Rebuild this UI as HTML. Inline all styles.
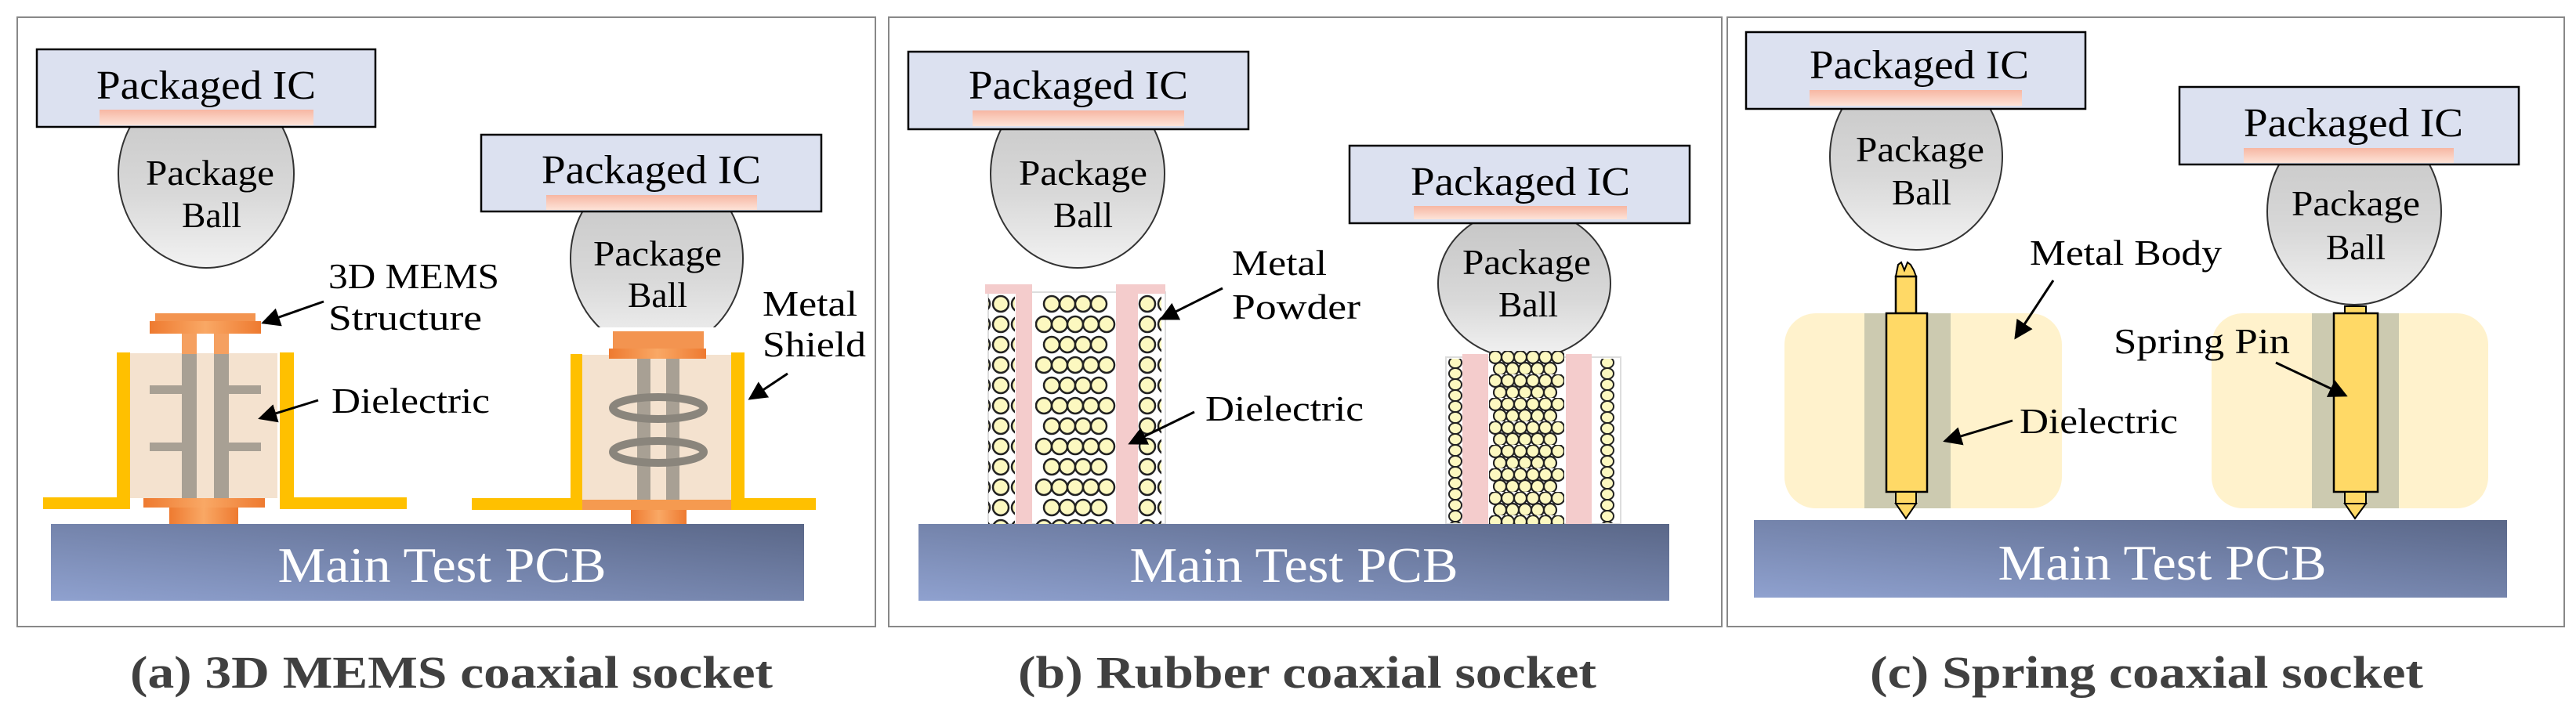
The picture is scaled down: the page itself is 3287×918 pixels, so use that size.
<!DOCTYPE html>
<html><head><meta charset="utf-8"><style>
html,body{margin:0;padding:0;background:#fff;}
svg{display:block;}
.t{font-family:"Liberation Serif",serif;fill:#000;}
.cap{font-family:"Liberation Serif",serif;font-weight:bold;fill:#404040;font-size:58px;}
</style></head><body>
<svg width="3287" height="918" viewBox="0 0 3287 918" xmlns="http://www.w3.org/2000/svg">
<defs>
<linearGradient id="pcb" x1="0" y1="1" x2="1" y2="0">
<stop offset="0" stop-color="#8fa1cf"/><stop offset="1" stop-color="#5a6788"/></linearGradient>
<linearGradient id="ball" x1="0" y1="0" x2="0" y2="1">
<stop offset="0" stop-color="#c4c4c4"/><stop offset="0.6" stop-color="#d8d8d8"/><stop offset="1" stop-color="#f2f2f2"/></linearGradient>
<linearGradient id="pink" x1="0" y1="0" x2="0" y2="1">
<stop offset="0" stop-color="#f7b7a3"/><stop offset="1" stop-color="#fde3d8"/></linearGradient>
<linearGradient id="orng" x1="0" y1="0" x2="1" y2="0">
<stop offset="0" stop-color="#ee7a30"/><stop offset="0.5" stop-color="#f9a865"/><stop offset="1" stop-color="#ee7a30"/></linearGradient>
<marker id="ar" markerWidth="8" markerHeight="8" refX="7" refY="4" orient="auto" markerUnits="strokeWidth">
<path d="M0,0 L8,4 L0,8 z" fill="#000"/></marker>
<pattern id="p1" x="1265" y="375" width="24" height="26" patternUnits="userSpaceOnUse">
<circle cx="12" cy="13" r="10" fill="#fcf8c0" stroke="#222" stroke-width="2.5"/></pattern>
<pattern id="p2" x="1321" y="375" width="104" height="52" patternUnits="userSpaceOnUse">
<g fill="#fcf8c0" stroke="#222" stroke-width="2.5">
<circle cx="21" cy="13" r="10"/><circle cx="41" cy="13" r="10"/><circle cx="61" cy="13" r="10"/><circle cx="81" cy="13" r="10"/>
<circle cx="11" cy="39" r="10"/><circle cx="31" cy="39" r="10"/><circle cx="51" cy="39" r="10"/><circle cx="71" cy="39" r="10"/><circle cx="91" cy="39" r="10"/></g></pattern>
<pattern id="p3" x="1900" y="448" width="96" height="30" patternUnits="userSpaceOnUse">
<g fill="#fcf8c0" stroke="#222" stroke-width="2.2">
<circle cx="8" cy="8" r="8"/><circle cx="24" cy="8" r="8"/><circle cx="40" cy="8" r="8"/><circle cx="56" cy="8" r="8"/><circle cx="72" cy="8" r="8"/><circle cx="88" cy="8" r="8"/>
<circle cx="14" cy="23" r="8"/><circle cx="30" cy="23" r="8"/><circle cx="46" cy="23" r="8"/><circle cx="62" cy="23" r="8"/><circle cx="78" cy="23" r="8"/></g></pattern>
<pattern id="p4" x="1846" y="456" width="22" height="14" patternUnits="userSpaceOnUse">
<ellipse cx="11" cy="7" rx="8" ry="7" fill="#fcf8c0" stroke="#222" stroke-width="2"/></pattern>
<pattern id="p5" x="2040" y="456" width="22" height="14" patternUnits="userSpaceOnUse">
<ellipse cx="11" cy="7" rx="8" ry="7" fill="#fcf8c0" stroke="#222" stroke-width="2"/></pattern>
</defs>

<!-- panel borders -->
<rect x="22" y="22" width="1095" height="778" fill="none" stroke="#888" stroke-width="2"/>
<rect x="1134" y="22" width="1063" height="778" fill="none" stroke="#888" stroke-width="2"/>
<rect x="2204" y="22" width="1068" height="778" fill="none" stroke="#888" stroke-width="2"/>

<!-- ===== Panel A ===== -->
<ellipse cx="263" cy="222" rx="112" ry="120" fill="url(#ball)" stroke="#333" stroke-width="2"/>
<rect x="47" y="63" width="432" height="99" fill="#dce1f0" stroke="#000" stroke-width="2.5"/>
<rect x="127" y="140" width="273" height="20" fill="url(#pink)"/>
<text class="t" x="263" y="126" font-size="52" text-anchor="middle" textLength="280" lengthAdjust="spacingAndGlyphs">Packaged IC</text>
<text class="t" x="268" y="236" font-size="46" text-anchor="middle" textLength="164" lengthAdjust="spacingAndGlyphs">Package</text>
<text class="t" x="270" y="290" font-size="46" text-anchor="middle" textLength="76" lengthAdjust="spacingAndGlyphs">Ball</text>

<!-- left MEMS -->
<rect x="166" y="451" width="188" height="185" fill="#f4e2cf"/>
<rect x="232" y="426" width="19" height="210" fill="#a8a094"/>
<rect x="273" y="426" width="19" height="210" fill="#a8a094"/>
<rect x="232" y="426" width="19" height="26" fill="#f5a060"/>
<rect x="273" y="426" width="19" height="26" fill="#f5a060"/>
<rect x="191" y="492" width="41" height="11" fill="#a8a094"/>
<rect x="292" y="492" width="41" height="11" fill="#a8a094"/>
<rect x="191" y="565" width="41" height="11" fill="#a8a094"/>
<rect x="292" y="565" width="41" height="11" fill="#a8a094"/>
<rect x="198" y="400" width="128" height="11" fill="#f39450"/>
<rect x="191" y="410" width="142" height="16" fill="url(#orng)"/>
<rect x="183" y="636" width="155" height="12" fill="url(#orng)"/>
<rect x="216" y="648" width="88" height="21" fill="url(#orng)"/>
<g fill="#ffc000">
<rect x="149" y="450" width="17" height="200"/><rect x="55" y="635" width="111" height="15"/>
<rect x="357" y="450" width="18" height="200"/><rect x="357" y="635" width="162" height="15"/>
</g>

<!-- right MEMS -->
<ellipse cx="838" cy="330" rx="110" ry="118" fill="url(#ball)" stroke="#333" stroke-width="2"/>
<rect x="760" y="418" width="160" height="30" fill="#fff"/>
<rect x="614" y="172" width="434" height="98" fill="#dce1f0" stroke="#000" stroke-width="2.5"/>
<rect x="697" y="249" width="269" height="19" fill="url(#pink)"/>
<text class="t" x="831" y="234" font-size="52" text-anchor="middle" textLength="280" lengthAdjust="spacingAndGlyphs">Packaged IC</text>
<text class="t" x="839" y="339" font-size="46" text-anchor="middle" textLength="164" lengthAdjust="spacingAndGlyphs">Package</text>
<text class="t" x="839" y="392" font-size="46" text-anchor="middle" textLength="76" lengthAdjust="spacingAndGlyphs">Ball</text>
<rect x="743" y="453" width="190" height="185" fill="#f4e2cf"/>
<rect x="813" y="458" width="17" height="180" fill="#a8a094"/>
<rect x="850" y="458" width="17" height="180" fill="#a8a094"/>
<g fill="none" stroke="#8a857c" stroke-width="10">
<ellipse cx="840" cy="521" rx="58" ry="14"/><ellipse cx="840" cy="577" rx="58" ry="14"/></g>
<rect x="782" y="423" width="116" height="22" fill="#f39450"/>
<rect x="777" y="445" width="124" height="13" fill="url(#orng)"/>
<rect x="743" y="638" width="190" height="13" fill="#f59a50"/>
<rect x="805" y="651" width="71" height="18" fill="url(#orng)"/>
<g fill="#ffc000">
<rect x="728" y="452" width="15" height="199"/><rect x="602" y="636" width="141" height="15"/>
<rect x="933" y="450" width="17" height="201"/><rect x="933" y="636" width="108" height="15"/>
</g>

<rect x="65" y="669" width="961" height="98" fill="url(#pcb)"/>
<text x="564" y="743" font-family="Liberation Serif,serif" font-size="64" fill="#fff" text-anchor="middle" textLength="419" lengthAdjust="spacingAndGlyphs">Main Test PCB</text>

<text class="t" x="419" y="368" font-size="46" textLength="218" lengthAdjust="spacingAndGlyphs">3D MEMS</text>
<text class="t" x="419" y="421" font-size="46" textLength="196" lengthAdjust="spacingAndGlyphs">Structure</text>
<line x1="413" y1="385" x2="336" y2="412" stroke="#000" stroke-width="3" marker-end="url(#ar)"/>
<text class="t" x="423" y="527" font-size="46" textLength="202" lengthAdjust="spacingAndGlyphs">Dielectric</text>
<line x1="406" y1="511" x2="332" y2="534" stroke="#000" stroke-width="3" marker-end="url(#ar)"/>
<text class="t" x="973" y="403" font-size="46" textLength="121" lengthAdjust="spacingAndGlyphs">Metal</text>
<text class="t" x="973" y="455" font-size="46" textLength="132" lengthAdjust="spacingAndGlyphs">Shield</text>
<line x1="1005" y1="477" x2="957" y2="509" stroke="#000" stroke-width="3" marker-end="url(#ar)"/>
<text class="cap" x="576" y="878" text-anchor="middle" textLength="820" lengthAdjust="spacingAndGlyphs">(a) 3D MEMS coaxial socket</text>

<!-- ===== Panel B ===== -->
<ellipse cx="1375" cy="222" rx="111" ry="120" fill="url(#ball)" stroke="#333" stroke-width="2"/>
<rect x="1159" y="66" width="434" height="99" fill="#dce1f0" stroke="#000" stroke-width="2.5"/>
<rect x="1241" y="141" width="270" height="20" fill="url(#pink)"/>
<text class="t" x="1376" y="126" font-size="52" text-anchor="middle" textLength="280" lengthAdjust="spacingAndGlyphs">Packaged IC</text>
<text class="t" x="1382" y="236" font-size="46" text-anchor="middle" textLength="164" lengthAdjust="spacingAndGlyphs">Package</text>
<text class="t" x="1382" y="290" font-size="46" text-anchor="middle" textLength="76" lengthAdjust="spacingAndGlyphs">Ball</text>

<rect x="1261" y="373" width="226" height="296" fill="#fff" stroke="#ddd" stroke-width="2"/>
<rect x="1261" y="375" width="34" height="294" fill="url(#p1)"/>
<rect x="1321" y="375" width="104" height="294" fill="url(#p2)"/>
<rect x="1455" y="375" width="32" height="294" fill="url(#p1)" transform="translate(-5,0)"/>
<rect x="1296" y="363" width="21" height="306" fill="#f4cccc"/>
<rect x="1257" y="363" width="60" height="12" fill="#f4cccc"/>
<rect x="1424" y="363" width="28" height="306" fill="#f4cccc"/>
<rect x="1424" y="363" width="63" height="12" fill="#f4cccc"/>

<ellipse cx="1945" cy="362" rx="110" ry="96" fill="url(#ball)" stroke="#333" stroke-width="2"/>
<rect x="1722" y="186" width="434" height="99" fill="#dce1f0" stroke="#000" stroke-width="2.5"/>
<rect x="1804" y="263" width="272" height="17" fill="url(#pink)"/>
<text class="t" x="1940" y="249" font-size="52" text-anchor="middle" textLength="280" lengthAdjust="spacingAndGlyphs">Packaged IC</text>
<text class="t" x="1948" y="350" font-size="46" text-anchor="middle" textLength="164" lengthAdjust="spacingAndGlyphs">Package</text>
<text class="t" x="1950" y="404" font-size="46" text-anchor="middle" textLength="76" lengthAdjust="spacingAndGlyphs">Ball</text>
<rect x="1845" y="456" width="223" height="213" fill="#fff" stroke="#ddd" stroke-width="2"/>
<rect x="1846" y="458" width="22" height="210" fill="url(#p4)"/>
<rect x="2040" y="458" width="22" height="210" fill="url(#p5)"/>
<rect x="1900" y="448" width="96" height="221" fill="url(#p3)"/>
<rect x="1866" y="452" width="33" height="217" fill="#f4cccc"/>
<rect x="1998" y="452" width="33" height="217" fill="#f4cccc"/>

<rect x="1172" y="669" width="958" height="98" fill="url(#pcb)"/>
<text x="1651" y="743" font-family="Liberation Serif,serif" font-size="64" fill="#fff" text-anchor="middle" textLength="419" lengthAdjust="spacingAndGlyphs">Main Test PCB</text>

<text class="t" x="1572" y="351" font-size="46" textLength="121" lengthAdjust="spacingAndGlyphs">Metal</text>
<text class="t" x="1572" y="407" font-size="46" textLength="164" lengthAdjust="spacingAndGlyphs">Powder</text>
<line x1="1560" y1="368" x2="1482" y2="407" stroke="#000" stroke-width="3" marker-end="url(#ar)"/>
<text class="t" x="1538" y="537" font-size="46" textLength="202" lengthAdjust="spacingAndGlyphs">Dielectric</text>
<line x1="1524" y1="526" x2="1442" y2="566" stroke="#000" stroke-width="3" marker-end="url(#ar)"/>
<text class="cap" x="1668" y="878" text-anchor="middle" textLength="738" lengthAdjust="spacingAndGlyphs">(b) Rubber coaxial socket</text>

<!-- ===== Panel C ===== -->
<ellipse cx="2445" cy="200" rx="110" ry="119" fill="url(#ball)" stroke="#333" stroke-width="2"/>
<rect x="2228" y="41" width="433" height="98" fill="#dce1f0" stroke="#000" stroke-width="2.5"/>
<rect x="2309" y="115" width="271" height="20" fill="url(#pink)"/>
<text class="t" x="2449" y="100" font-size="52" text-anchor="middle" textLength="280" lengthAdjust="spacingAndGlyphs">Packaged IC</text>
<text class="t" x="2450" y="206" font-size="46" text-anchor="middle" textLength="164" lengthAdjust="spacingAndGlyphs">Package</text>
<text class="t" x="2452" y="261" font-size="46" text-anchor="middle" textLength="76" lengthAdjust="spacingAndGlyphs">Ball</text>

<rect x="2277" y="400" width="354" height="249" rx="40" fill="#fff2cc"/>
<rect x="2379" y="400" width="110" height="249" fill="#cccab0"/>
<path d="M2419,353 L2422,338 L2426,335 L2430,345 L2434,335 L2438,338 L2442,345 L2445,353 Z" fill="#ffd966" stroke="#000" stroke-width="2"/>
<rect x="2419" y="353" width="26" height="47" fill="#ffd966" stroke="#000" stroke-width="2.5"/>
<rect x="2407" y="400" width="52" height="228" fill="#ffd966" stroke="#000" stroke-width="2.5"/>
<rect x="2419" y="628" width="26" height="15" fill="#ffd966" stroke="#000" stroke-width="2"/>
<path d="M2419,643 L2445,643 L2432,662 Z" fill="#ffd966" stroke="#000" stroke-width="2"/>

<ellipse cx="3004" cy="270" rx="111" ry="119" fill="url(#ball)" stroke="#333" stroke-width="2"/>
<rect x="2781" y="111" width="433" height="99" fill="#dce1f0" stroke="#000" stroke-width="2.5"/>
<rect x="2863" y="189" width="268" height="19" fill="url(#pink)"/>
<text class="t" x="3003" y="174" font-size="52" text-anchor="middle" textLength="280" lengthAdjust="spacingAndGlyphs">Packaged IC</text>
<text class="t" x="3006" y="275" font-size="46" text-anchor="middle" textLength="164" lengthAdjust="spacingAndGlyphs">Package</text>
<text class="t" x="3006" y="331" font-size="46" text-anchor="middle" textLength="76" lengthAdjust="spacingAndGlyphs">Ball</text>
<rect x="2822" y="400" width="353" height="249" rx="40" fill="#fff2cc"/>
<rect x="2950" y="400" width="111" height="249" fill="#cccab0"/>
<rect x="2992" y="391" width="27" height="9" fill="#ffd966" stroke="#000" stroke-width="2"/>
<rect x="2978" y="400" width="56" height="228" fill="#ffd966" stroke="#000" stroke-width="2.5"/>
<rect x="2992" y="628" width="27" height="15" fill="#ffd966" stroke="#000" stroke-width="2"/>
<path d="M2992,643 L3019,643 L3005,662 Z" fill="#ffd966" stroke="#000" stroke-width="2"/>

<rect x="2238" y="664" width="961" height="99" fill="url(#pcb)"/>
<text x="2759" y="740" font-family="Liberation Serif,serif" font-size="64" fill="#fff" text-anchor="middle" textLength="419" lengthAdjust="spacingAndGlyphs">Main Test PCB</text>

<text class="t" x="2590" y="338" font-size="46" textLength="245" lengthAdjust="spacingAndGlyphs">Metal Body</text>
<line x1="2620" y1="358" x2="2572" y2="431" stroke="#000" stroke-width="3" marker-end="url(#ar)"/>
<text class="t" x="2577" y="553" font-size="46" textLength="202" lengthAdjust="spacingAndGlyphs">Dielectric</text>
<line x1="2568" y1="537" x2="2482" y2="563" stroke="#000" stroke-width="3" marker-end="url(#ar)"/>
<text class="t" x="2697" y="451" font-size="46" textLength="225" lengthAdjust="spacingAndGlyphs">Spring Pin</text>
<line x1="2904" y1="463" x2="2993" y2="505" stroke="#000" stroke-width="3" marker-end="url(#ar)"/>
<text class="cap" x="2739" y="878" text-anchor="middle" textLength="706" lengthAdjust="spacingAndGlyphs">(c) Spring coaxial socket</text>
</svg>
</body></html>
